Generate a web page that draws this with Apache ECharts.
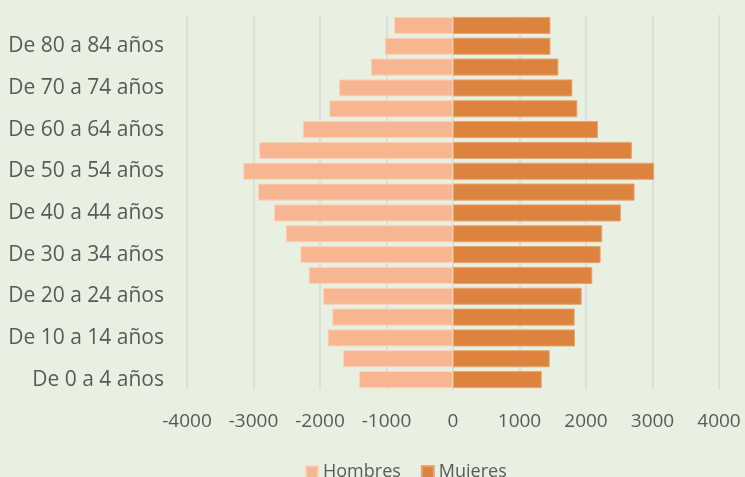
<!DOCTYPE html>
<html>
<head>
<meta charset="utf-8">
<script src="https://cdn.jsdelivr.net/npm/echarts@6/dist/echarts.min.js"></script>
<style>
  html, body { margin: 0; padding: 0; background: #e8f1e1; }
  #chart { width: 745px; height: 477px; }
</style>
</head>
<body>
<div id="chart"></div>
<script>
// grupos de edad (de abajo hacia arriba)
const ageGroups = [
  'De 0 a 4 años', 'De 5 a 9 años', 'De 10 a 14 años', 'De 15 a 19 años',
  'De 20 a 24 años', 'De 25 a 29 años', 'De 30 a 34 años', 'De 35 a 39 años',
  'De 40 a 44 años', 'De 45 a 49 años', 'De 50 a 54 años', 'De 55 a 59 años',
  'De 60 a 64 años', 'De 65 a 69 años', 'De 70 a 74 años', 'De 75 a 79 años',
  'De 80 a 84 años', 'De 85 y más años'
]

// valores
const hombres = [1415, 1655, 1885, 1815, 1955, 2170, 2295, 2515, 2690, 2935, 3155, 2915, 2260, 1860, 1715, 1235, 1025, 885]
const mujeres = [1335, 1455, 1835, 1830, 1935, 2095, 2220, 2245, 2525, 2730, 3025, 2690, 2180, 1870, 1795, 1585, 1465, 1465]

const xTicks = { min: -4000, max: 4000, interval: 1000 }

const chart = echarts.init(document.getElementById('chart'))

const fontFamily = '"Open Sans", "Noto Sans", sans-serif'
const textColor = '#595959'

chart.setOption({
  backgroundColor: '#e8f1e1',
  textStyle: { fontFamily },
  grid: { left: 187, right: 26, top: 15, bottom: 87, containLabel: false },
  legend: {
    data: ['Hombres', 'Mujeres'],
    left: 300,
    top: 458,
    itemWidth: 12,
    itemHeight: 12,
    itemGap: 20,
    icon: 'rect',
    textStyle: { color: textColor, fontSize: 18, fontFamily }
  },
  xAxis: {
    type: 'value',
    min: xTicks.min,
    max: xTicks.max,
    interval: xTicks.interval,
    axisLine: { show: false },
    axisTick: { show: false },
    splitLine: { lineStyle: { color: '#d9d9d9', width: 1.5 } },
    axisLabel: {
      color: textColor,
      fontSize: 19,
      margin: 22,
      fontFamily,
      formatter: v => String(v)
    }
  },
  yAxis: {
    type: 'category',
    data: ageGroups,
    axisLine: { show: false },
    axisTick: { show: false },
    axisLabel: { color: textColor, fontSize: 21, margin: 23, interval: 1, fontFamily }
  },
  series: [
    {
      name: 'Hombres',
      type: 'bar',
      data: hombres.map(v => -v),
      barGap: '-100%',
      barCategoryGap: '18%',
      itemStyle: { color: '#f8b592', borderColor: '#fbd3bb', borderWidth: 1 }
    },
    {
      name: 'Mujeres',
      type: 'bar',
      data: mujeres,
      barGap: '-100%',
      barCategoryGap: '18%',
      itemStyle: { color: '#dc843f', borderColor: '#eaa46e', borderWidth: 1 }
    }
  ]
})
</script>
</body>
</html>
